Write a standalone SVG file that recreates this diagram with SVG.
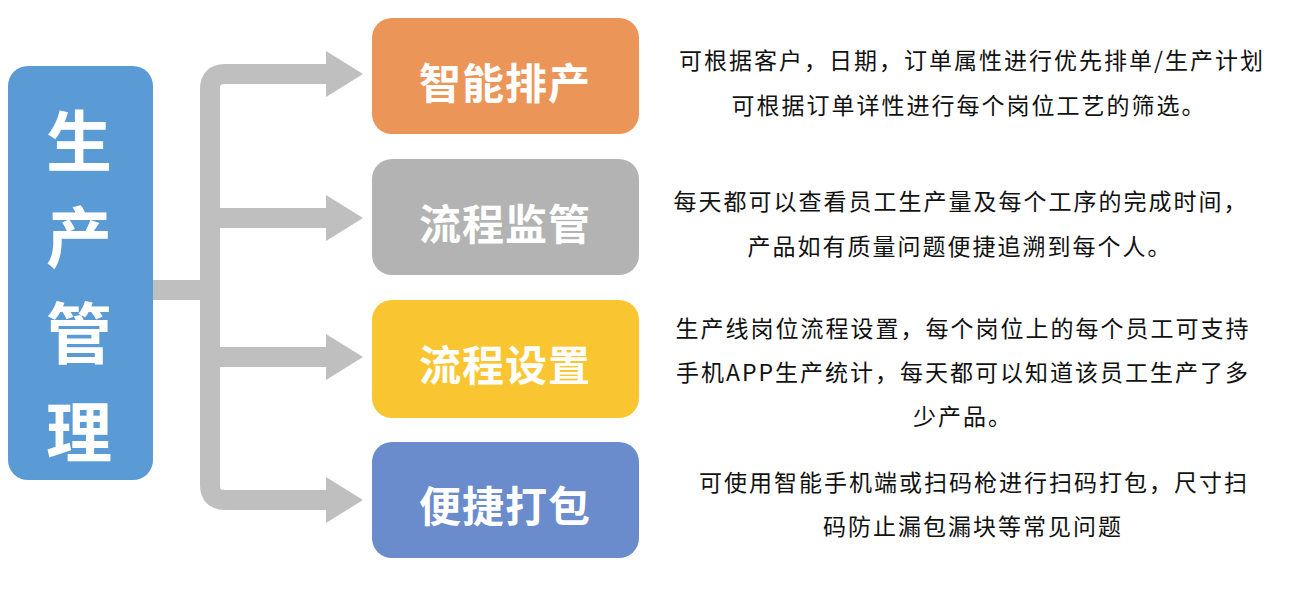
<svg xmlns="http://www.w3.org/2000/svg" width="1313" height="611" viewBox="0 0 1313 611">
  <style>
    .conn { fill: none; stroke: #bfbfbf; stroke-width: 20; }
    .box-label { font-family: "Noto Sans CJK SC", "Noto Sans", sans-serif; font-weight: bold; font-size: 42px; fill: #ffffff; text-anchor: middle; dominant-baseline: central; letter-spacing: 1px; }
    .root-label { font-family: "Noto Sans CJK SC", "Noto Sans", sans-serif; font-weight: bold; font-size: 66px; fill: #ffffff; text-anchor: middle; dominant-baseline: central; }
    .desc { font-family: "Noto Sans CJK SC", "Noto Sans", sans-serif; font-size: 23px; fill: #111111; text-anchor: middle; dominant-baseline: central; letter-spacing: 2px; }
  </style>
  <defs>
    <marker id="ah" markerUnits="userSpaceOnUse" markerWidth="37" markerHeight="46" viewBox="0 0 37 46" refX="0" refY="23" orient="auto">
      <path d="M0 0 L37 23 L0 46 Z" fill="#bfbfbf"/>
    </marker>
  </defs>
  <rect width="1313" height="611" fill="#ffffff"/>

  <g id="connectors">
    <path class="conn" d="M153 290 H210"/>
    <path class="conn" d="M210 291 V89 Q210 74 225 74 H326" marker-end="url(#ah)"/>
    <path class="conn" d="M210 289 V485 Q210 500 225 500 H326" marker-end="url(#ah)"/>
    <path class="conn" d="M210 218 H326" marker-end="url(#ah)"/>
    <path class="conn" d="M210 357 H326" marker-end="url(#ah)"/>
  </g>

  <g id="root">
    <rect x="8" y="66" width="145" height="414" rx="20" fill="#5a9bd5"/>
    <text class="root-label" x="79" y="137">生</text>
    <text class="root-label" x="79" y="233">产</text>
    <text class="root-label" x="79" y="329">管</text>
    <text class="root-label" x="79" y="428">理</text>
  </g>

  <g id="node-zhineng">
    <rect x="372" y="18" width="267" height="116" rx="20" fill="#ec9559"/>
    <text class="box-label" x="505" y="80">智能排产</text>
  </g>
  <g id="node-jiankong">
    <rect x="372" y="159" width="267" height="116" rx="20" fill="#b3b3b3"/>
    <text class="box-label" x="505" y="221">流程监管</text>
  </g>
  <g id="node-shezhi">
    <rect x="372" y="300" width="267" height="118" rx="20" fill="#f9c631"/>
    <text class="box-label" x="505" y="362">流程设置</text>
  </g>
  <g id="node-dabao">
    <rect x="372" y="442" width="267" height="116" rx="20" fill="#6a8ccc"/>
    <text class="box-label" x="505" y="503">便捷打包</text>
  </g>

  <g id="desc-zhineng">
    <text class="desc" x="972" y="59">可根据客户，日期，订单属性进行优先排单/生产计划</text>
    <text class="desc" x="969" y="104">可根据订单详性进行每个岗位工艺的筛选。</text>
  </g>
  <g id="desc-jiankong">
    <text class="desc" x="961" y="200">每天都可以查看员工生产量及每个工序的完成时间，</text>
    <text class="desc" x="960" y="245">产品如有质量问题便捷追溯到每个人。</text>
  </g>
  <g id="desc-shezhi">
    <text class="desc" x="963" y="327">生产线岗位流程设置，每个岗位上的每个员工可支持</text>
    <text class="desc" x="963" y="371">手机APP生产统计，每天都可以知道该员工生产了多</text>
    <text class="desc" x="963" y="415">少产品。</text>
  </g>
  <g id="desc-dabao">
    <text class="desc" x="974" y="481">可使用智能手机端或扫码枪进行扫码打包，尺寸扫</text>
    <text class="desc" x="973" y="525">码防止漏包漏块等常见问题</text>
  </g>
</svg>
